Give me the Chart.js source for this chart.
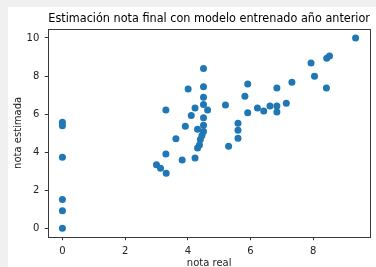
<!DOCTYPE html>
<html>
<head>
<meta charset="utf-8">
<script src="https://cdn.jsdelivr.net/npm/chart.js@4"></script>
<style>
html,body{margin:0;padding:0;background:#f0f0f0;width:376px;height:267px;overflow:hidden;}
#wrap{position:absolute;left:8px;top:7px;width:368px;height:260px;background:#fff;}
canvas{display:block;}
</style>
</head>
<body>
<div id="wrap"><canvas id="c" width="368" height="260"></canvas></div>
<script>
const titleText = "Estimación nota final con modelo entrenado año anterior";
const xLabel = "nota real";
const yLabel = "nota estimada";
const xTicks = [0, 2, 4, 6, 8];
const yTicks = [0, 2, 4, 6, 8, 10];
const notaReal = [0, 0, 0, 0, 0, 0,
  3.00, 3.13, 3.31, 3.30, 3.30, 3.62, 3.82, 3.92, 4.01, 4.11, 4.23, 4.23, 4.31, 4.31,
  4.37, 4.40, 4.45, 4.50, 4.50, 4.50, 4.50, 4.63, 4.50, 4.50, 4.50, 5.20, 5.30, 5.60,
  5.60, 5.60, 5.82, 5.91, 5.91, 6.22, 6.42, 6.62, 6.84, 6.84, 6.84, 7.14, 7.32, 7.93,
  8.04, 8.42, 8.43, 8.52, 9.35];
const notaEstimada = [5.57, 5.39, 3.73, 1.52, 0.92, 0.00,
  3.34, 3.15, 2.89, 3.90, 6.22, 4.70, 3.59, 5.36, 7.32, 5.92, 6.32, 3.69, 5.20, 4.22,
  4.38, 4.66, 4.87, 5.08, 5.41, 5.81, 6.50, 6.22, 6.88, 7.43, 8.39, 6.48, 4.31, 4.73,
  5.15, 5.52, 6.94, 7.58, 6.07, 6.32, 6.16, 6.43, 6.43, 6.11, 7.37, 6.57, 7.67, 8.69,
  7.99, 7.37, 8.93, 9.05, 10.00];

const points = notaReal.map((x, i) => ({x: x, y: notaEstimada[i]}));

const frame = {
  id: 'frame',
  afterDatasetsDraw(chart) {
    const a = chart.chartArea, ctx = chart.ctx;
    ctx.save();
    ctx.strokeStyle = '#3a3a3a';
    ctx.lineWidth = 1;
    ctx.strokeRect(Math.round(a.left) + 0.5, Math.round(a.top) + 0.5,
      Math.round(a.right - a.left), Math.round(a.bottom - a.top));
    ctx.restore();
  }
};

const font = {family: 'DejaVu Sans', size: 10};

new Chart(document.getElementById('c'), {
  type: 'scatter',
  data: {
    datasets: [{
      data: points,
      backgroundColor: '#1f77b4',
      borderWidth: 0,
      pointRadius: 3.5,
      pointHoverRadius: 3.5
    }]
  },
  options: {
    responsive: false,
    devicePixelRatio: 1,
    animation: false,
    events: [],
    layout: {padding: {left: 0, right: 6, top: 0, bottom: 0}},
    plugins: {
      legend: {display: false},
      tooltip: {enabled: false},
      title: {
        display: true,
        text: titleText,
        fullSize: false,
        color: '#000',
        font: {family: 'DejaVu Sans', size: 12, weight: 'normal', lineHeight: 1.2},
        padding: {top: 5, bottom: 2.6}
      }
    },
    scales: {
      x: {
        type: 'linear',
        min: -0.45,
        max: 9.81,
        afterBuildTicks: s => { s.ticks = xTicks.map(v => ({value: v})); },
        afterFit: s => { s.height = 30.3; },
        grid: {drawOnChartArea: false, drawTicks: true, tickLength: 3.5, tickColor: '#333', tickWidth: 1},
        border: {display: false},
        ticks: {color: '#222', font: font, padding: 5, maxRotation: 0},
        title: {display: true, text: xLabel, color: '#222', font: font, padding: {top: 0, bottom: -2}}
      },
      y: {
        type: 'linear',
        min: -0.44,
        max: 10.47,
        afterBuildTicks: s => { s.ticks = yTicks.map(v => ({value: v})); },
        afterFit: s => { s.width = 40.3; },
        grid: {drawOnChartArea: false, drawTicks: true, tickLength: 3.5, tickColor: '#333', tickWidth: 1},
        border: {display: false},
        ticks: {color: '#222', font: font, padding: 5.5},
        title: {display: true, text: yLabel, color: '#222', font: font, padding: {top: 4, bottom: 0}}
      }
    }
  },
  plugins: [frame]
});
</script>
</body>
</html>
